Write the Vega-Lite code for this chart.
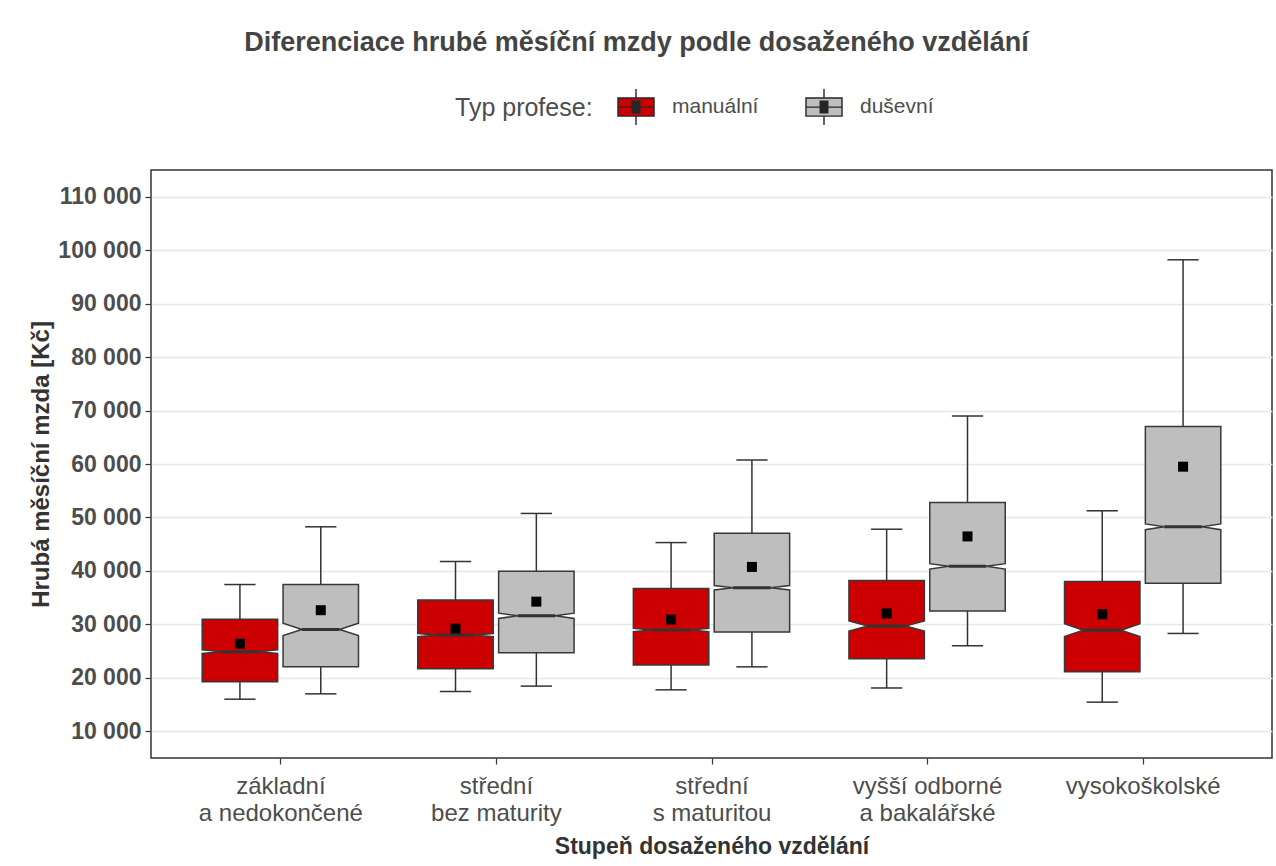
{
  "$schema": "https://vega.github.io/schema/vega-lite/v6.json",
  "width": 1121,
  "height": 588,
  "autosize": "none",
  "padding": {"left": 151, "top": 170, "right": 4, "bottom": 108},
  "background": "white",
  "title": {
    "text": "Diferenciace hrubé měsíční mzdy podle dosaženého vzdělání",
    "anchor": "middle",
    "frame": "group",
    "dx": -75,
    "offset": 31,
    "fontSize": 27,
    "font": "Liberation Sans",
    "fontWeight": "bold",
    "color": "#444444"
  },
  "config": {
    "font": "Liberation Sans",
    "view": {"stroke": "#333333", "strokeWidth": 1.5}
  },
  "data": {
    "values": [
      {"vzdelani": "základní a nedokončené", "typ": "manuální", "min": 16000, "q1": 19250, "notch_lo": 24550, "med": 24900, "notch_hi": 25250, "q3": 30950, "max": 37450, "mean": 26400},
      {"vzdelani": "základní a nedokončené", "typ": "duševní", "min": 17000, "q1": 22050, "notch_lo": 27900, "med": 29050, "notch_hi": 30200, "q3": 37450, "max": 48250, "mean": 32650},
      {"vzdelani": "střední bez maturity", "typ": "manuální", "min": 17450, "q1": 21700, "notch_lo": 27700, "med": 28000, "notch_hi": 28300, "q3": 34550, "max": 41750, "mean": 29200},
      {"vzdelani": "střední bez maturity", "typ": "duševní", "min": 18450, "q1": 24700, "notch_lo": 31100, "med": 31600, "notch_hi": 32100, "q3": 39950, "max": 50750, "mean": 34250},
      {"vzdelani": "střední s maturitou", "typ": "manuální", "min": 17750, "q1": 22400, "notch_lo": 28650, "med": 28950, "notch_hi": 29250, "q3": 36700, "max": 45300, "mean": 30900},
      {"vzdelani": "střední s maturitou", "typ": "duševní", "min": 22050, "q1": 28550, "notch_lo": 36450, "med": 36850, "notch_hi": 37250, "q3": 47050, "max": 60750, "mean": 40750},
      {"vzdelani": "vyšší odborné a bakalářské", "typ": "manuální", "min": 18100, "q1": 23550, "notch_lo": 28750, "med": 29700, "notch_hi": 30650, "q3": 38200, "max": 47800, "mean": 32050},
      {"vzdelani": "vyšší odborné a bakalářské", "typ": "duševní", "min": 26000, "q1": 32500, "notch_lo": 40350, "med": 40850, "notch_hi": 41350, "q3": 52800, "max": 69000, "mean": 46450},
      {"vzdelani": "vysokoškolské", "typ": "manuální", "min": 15450, "q1": 21150, "notch_lo": 27700, "med": 28900, "notch_hi": 30100, "q3": 38000, "max": 51250, "mean": 31900},
      {"vzdelani": "vysokoškolské", "typ": "duševní", "min": 28300, "q1": 37700, "notch_lo": 47700, "med": 48250, "notch_hi": 48800, "q3": 67000, "max": 98200, "mean": 59500}
    ]
  },
  "transform": [
    {"calculate": "indexof(['základní a nedokončené', 'střední bez maturity', 'střední s maturitou', 'vyšší odborné a bakalářské', 'vysokoškolské'], datum.vzdelani) + 1", "as": "idx"},
    {"calculate": "datum.idx + (datum.typ === 'manuální' ? -0.1875 : 0.1875)", "as": "xc"},
    {"calculate": "datum.xc - 0.175", "as": "xl"},
    {"calculate": "datum.xc + 0.175", "as": "xr"},
    {"calculate": "datum.xc - 0.0875", "as": "ml"},
    {"calculate": "datum.xc + 0.0875", "as": "mr"},
    {"calculate": "datum.xc - 0.0725", "as": "cl"},
    {"calculate": "datum.xc + 0.0725", "as": "cr"}
  ],
  "layer": [
    {
      "mark": {"type": "rule", "stroke": "#333333", "strokeWidth": 1.5},
      "encoding": {
        "x": {
          "field": "xc", "type": "quantitative",
          "scale": {"domain": [0.4, 5.6], "nice": false, "zero": false},
          "axis": {
            "title": "Stupeň dosaženého vzdělání",
            "values": [1, 2, 3, 4, 5],
            "grid": false,
            "domain": false,
            "ticks": true,
            "tickSize": 6,
            "tickColor": "#333333",
            "tickWidth": 1.2,
            "labelExpr": "datum.value == 1 ? ['základní', 'a nedokončené'] : datum.value == 2 ? ['střední', 'bez maturity'] : datum.value == 3 ? ['střední', 's maturitou'] : datum.value == 4 ? ['vyšší odborné', 'a bakalářské'] : 'vysokoškolské'",
            "labelFontSize": 24,
            "labelColor": "#4D4D4D",
            "labelPadding": 10,
            "labelLineHeight": 27,
            "labelBaseline": "top",
            "titleFontSize": 23,
            "titleFontWeight": "bold",
            "titleColor": "#333333",
            "titlePadding": 10
          }
        },
        "y": {
          "field": "q3", "type": "quantitative",
          "scale": {"domain": [5000, 115000], "nice": false, "zero": false},
          "axis": {
            "title": "Hrubá měsíční mzda [Kč]",
            "values": [10000, 15000, 20000, 25000, 30000, 35000, 40000, 45000, 50000, 55000, 60000, 65000, 70000, 75000, 80000, 85000, 90000, 95000, 100000, 105000, 110000],
            "grid": true,
            "gridColor": "#E8E8E8",
            "gridWidth": 1.3,
            "domain": false,
            "tickSize": 6,
            "tickColor": "#333333",
            "tickWidth": 1.2,
            "tickOpacity": {"condition": {"test": "datum.value % 10000 !== 0", "value": 0}, "value": 1},
            "labelExpr": "datum.value % 10000 === 0 ? replace(format(datum.value, ','), ',', ' ') : ''",
            "labelFontSize": 23,
            "labelFontWeight": "bold",
            "labelColor": "#4D4D4D",
            "labelPadding": 4,
            "titleFontSize": 24,
            "titleFontWeight": "bold",
            "titleColor": "#333333",
            "titlePadding": 4
          }
        },
        "y2": {"field": "max"}
      }
    },
    {
      "mark": {"type": "rule", "stroke": "#333333", "strokeWidth": 1.5},
      "encoding": {
        "x": {"field": "xc", "type": "quantitative", "scale": {"domain": [0.4, 5.6], "nice": false, "zero": false}},
        "y": {"field": "min", "type": "quantitative", "scale": {"domain": [5000, 115000], "nice": false, "zero": false}},
        "y2": {"field": "q1"}
      }
    },
    {
      "mark": {"type": "rule", "stroke": "#333333", "strokeWidth": 1.5},
      "encoding": {
        "x": {"field": "cl", "type": "quantitative", "scale": {"domain": [0.4, 5.6], "nice": false, "zero": false}},
        "x2": {"field": "cr"},
        "y": {"field": "max", "type": "quantitative", "scale": {"domain": [5000, 115000], "nice": false, "zero": false}}
      }
    },
    {
      "mark": {"type": "rule", "stroke": "#333333", "strokeWidth": 1.5},
      "encoding": {
        "x": {"field": "cl", "type": "quantitative", "scale": {"domain": [0.4, 5.6], "nice": false, "zero": false}},
        "x2": {"field": "cr"},
        "y": {"field": "min", "type": "quantitative", "scale": {"domain": [5000, 115000], "nice": false, "zero": false}}
      }
    },
    {
      "transform": [
        {"fold": ["q1", "notch_lo", "med", "notch_hi", "q3"], "as": ["k", "yv"]},
        {"calculate": "datum.k === 'med' ? datum.ml : datum.xl", "as": "ax"},
        {"calculate": "datum.k === 'med' ? datum.mr : datum.xr", "as": "ax2"}
      ],
      "mark": {"type": "area", "orient": "horizontal", "stroke": "#383838", "strokeWidth": 1.5, "opacity": 1, "fillOpacity": 1},
      "encoding": {
        "y": {"field": "yv", "type": "quantitative", "scale": {"domain": [5000, 115000], "nice": false, "zero": false}},
        "x": {"field": "ax", "type": "quantitative", "scale": {"domain": [0.4, 5.6], "nice": false, "zero": false}},
        "x2": {"field": "ax2"},
        "detail": {"field": "vzdelani"},
        "color": {
          "field": "typ", "type": "nominal",
          "scale": {"domain": ["manuální", "duševní"], "range": ["#CC0000", "#BEBEBE"]},
          "legend": {
            "title": "Typ profese:",
            "orient": "none",
            "legendX": 304,
            "legendY": -82,
            "direction": "horizontal",
            "titleOrient": "left",
            "titleFontSize": 25,
            "titleFontWeight": "normal",
            "titleColor": "#4D4D4D",
            "titlePadding": 24,
            "labelFontSize": 21,
            "labelColor": "#4D4D4D",
            "labelOffset": 17,
            "columnPadding": 44,
            "symbolType": "M-1,-0.5H1V0.5H-1Z M0,-1V-0.5 M0,0.5V1 M-1,0H1 M-0.21,-0.36V0.36 M-0.15,-0.36V0.36 M-0.09,-0.36V0.36 M-0.03,-0.36V0.36 M0.03,-0.36V0.36 M0.09,-0.36V0.36 M0.15,-0.36V0.36 M0.21,-0.36V0.36",
            "symbolSize": 1300,
            "symbolStrokeColor": "#262626",
            "symbolStrokeWidth": 1.4,
            "symbolOpacity": 1
          }
        }
      }
    },
    {
      "mark": {"type": "rule", "stroke": "#333333", "strokeWidth": 3},
      "encoding": {
        "x": {"field": "ml", "type": "quantitative", "scale": {"domain": [0.4, 5.6], "nice": false, "zero": false}},
        "x2": {"field": "mr"},
        "y": {"field": "med", "type": "quantitative", "scale": {"domain": [5000, 115000], "nice": false, "zero": false}}
      }
    },
    {
      "mark": {"type": "point", "shape": "square", "filled": true, "size": 100, "color": "black", "opacity": 1},
      "encoding": {
        "x": {"field": "xc", "type": "quantitative", "scale": {"domain": [0.4, 5.6], "nice": false, "zero": false}},
        "y": {"field": "mean", "type": "quantitative", "scale": {"domain": [5000, 115000], "nice": false, "zero": false}}
      }
    }
  ]
}
